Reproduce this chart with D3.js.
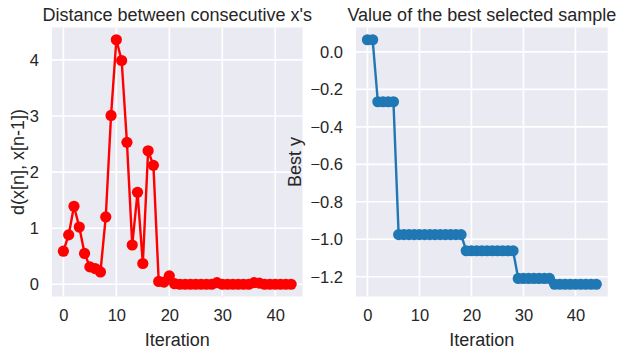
<!DOCTYPE html>
<html>
<head>
<meta charset="utf-8">
<script src="https://cdn.jsdelivr.net/npm/d3@7"></script>
<style>
  html, body { margin: 0; padding: 0; background: #ffffff; }
  svg { display: block; }
  text { font-family: "Liberation Sans", Arial, sans-serif; fill: #262626; }
</style>
</head>
<body>
<svg id="chart" width="623" height="355"></svg>
<script>
// ---- data ----
const distances = [
  0.59, 0.88, 1.39, 1.02, 0.55, 0.31, 0.28, 0.22, 1.20, 3.01,
  4.36, 3.99, 2.53, 0.70, 1.64, 0.37, 2.38, 2.12, 0.05, 0.04,
  0.15, 0.01, 0.00, 0.00, 0.00, 0.00, 0.00, 0.00, 0.00, 0.03,
  0.00, 0.00, 0.00, 0.00, 0.00, 0.00, 0.03, 0.02, 0.00, 0.00,
  0.00, 0.00, 0.00, 0.00
];
const bestY = [
  0.065, 0.065,
  -0.266, -0.266, -0.266, -0.266,
  -0.975, -0.975, -0.975, -0.975, -0.975, -0.975, -0.975, -0.975, -0.975, -0.975, -0.975, -0.975, -0.975,
  -1.061, -1.061, -1.061, -1.061, -1.061, -1.061, -1.061, -1.061, -1.061, -1.061,
  -1.209, -1.209, -1.209, -1.209, -1.209, -1.209, -1.209,
  -1.240, -1.240, -1.240, -1.240, -1.240, -1.240, -1.240, -1.240, -1.240
];
const xTicks = [0, 10, 20, 30, 40];
const leftYTicks = [0, 1, 2, 3, 4];
const rightYTicks = [0.0, -0.2, -0.4, -0.6, -0.8, -1.0, -1.2];
const titles = ["Distance between consecutive x's", "Value of the best selected sample"];
const xLabel = "Iteration";
const yLabels = ["d(x[n], x[n-1])", "Best y"];

const svg = d3.select("#chart");

function panel(opts) {
  const { x0, x1, y0, y1, values, color, yTicks, yFmt, title, ylabel, ylabelX } = opts;
  const n = values.length;
  const xm = (n - 1) * 0.05;
  const x = d3.scaleLinear().domain([-xm, n - 1 + xm]).range([x0, x1]);
  const ymin = d3.min(values), ymax = d3.max(values);
  const ym = (ymax - ymin) * 0.05;
  const y = d3.scaleLinear().domain([ymin - ym, ymax + ym]).range([y1, y0]);

  const g = svg.append("g");
  g.append("rect").attr("x", x0).attr("y", y0)
    .attr("width", x1 - x0).attr("height", y1 - y0).attr("fill", "#EAEAF2");

  // grid
  g.selectAll(".gx").data(xTicks).enter().append("line")
    .attr("x1", d => x(d)).attr("x2", d => x(d))
    .attr("y1", y0).attr("y2", y1)
    .attr("stroke", "#ffffff").attr("stroke-width", 1.6);
  g.selectAll(".gy").data(yTicks).enter().append("line")
    .attr("x1", x0).attr("x2", x1)
    .attr("y1", d => y(d)).attr("y2", d => y(d))
    .attr("stroke", "#ffffff").attr("stroke-width", 1.6);

  // axes (d3 axes, tick lines hidden)
  const xAxis = d3.axisBottom(x).tickValues(xTicks).tickSize(0).tickPadding(13).tickFormat(d3.format("d"));
  const xa = g.append("g").attr("transform", `translate(0,${y1})`).call(xAxis);
  const yAxis = d3.axisLeft(y).tickValues(yTicks).tickSize(0).tickPadding(13).tickFormat(yFmt);
  const ya = g.append("g").attr("transform", `translate(${x0},0)`).call(yAxis);
  [xa, ya].forEach(a => {
    a.select(".domain").remove();
    a.selectAll("text").attr("font-size", 16.5).attr("fill", "#262626")
      .attr("font-family", '"Liberation Sans", Arial, sans-serif');
  });

  // line + markers
  const line = d3.line().x((d, i) => x(i)).y(d => y(d));
  g.append("path").datum(values).attr("d", line)
    .attr("fill", "none").attr("stroke", color).attr("stroke-width", 2.4)
    .attr("stroke-linejoin", "round");
  g.selectAll(".pt").data(values).enter().append("circle")
    .attr("cx", (d, i) => x(i)).attr("cy", d => y(d)).attr("r", 5.6)
    .attr("fill", color);

  // texts
  g.append("text").attr("x", (x0 + x1) / 2).attr("y", 21)
    .attr("text-anchor", "middle").attr("font-size", 18).text(title);
  g.append("text").attr("x", (x0 + x1) / 2).attr("y", 346)
    .attr("text-anchor", "middle").attr("font-size", 18).text(xLabel);
  g.append("text").attr("transform", `translate(${ylabelX},${(y0 + y1) / 2}) rotate(-90)`)
    .attr("text-anchor", "middle").attr("font-size", 18).text(ylabel);
}

const minusFmt = d => d3.format(".1f")(d).replace("-", "\u2212");

panel({ x0: 52, x1: 302.5, y0: 27.5, y1: 296.5, values: distances, color: "#ff0000",
  yTicks: leftYTicks, yFmt: d3.format("d"), title: titles[0], ylabel: yLabels[0], ylabelX: 24 });
panel({ x0: 356, x1: 607.7, y0: 27.5, y1: 296.5, values: bestY, color: "#1f77b4",
  yTicks: rightYTicks, yFmt: minusFmt, title: titles[1], ylabel: yLabels[1], ylabelX: 301 });
</script>
</body>
</html>
